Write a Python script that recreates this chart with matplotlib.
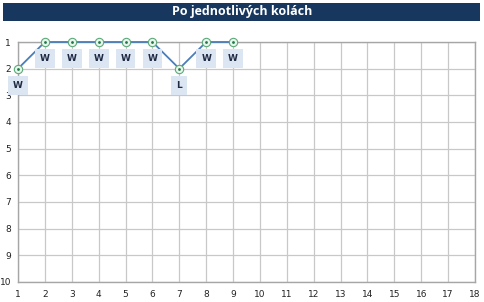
# Po jednotlivych kolach - position per round chart
import matplotlib
matplotlib.use('Agg')
import matplotlib.pyplot as plt
from matplotlib.patches import Rectangle

# Data
rounds = [1, 2, 3, 4, 5, 6, 7, 8, 9]
positions = [2, 1, 1, 1, 1, 1, 2, 1, 1]
results = ['W', 'W', 'W', 'W', 'W', 'W', 'L', 'W', 'W']
x_ticks = list(range(1, 19))
y_ticks = list(range(1, 11))

fig = plt.figure(figsize=(4.85, 3.02), dpi=100)

# Title bar
fig.patches.append(Rectangle((3/485, 1 - 21/302), 477/485, 18/302,
                             transform=fig.transFigure, facecolor='#17375E',
                             edgecolor='none'))
fig.text(0.5, 1 - 12/302, 'Po jednotlivých kolách', ha='center', va='center',
         color='white', fontsize=9, fontweight='bold', family='Open Sans')

ax = fig.add_axes([18/485, 1 - 282/302, 457/485, 240/302])
ax.set_xlim(1, 18)
ax.set_ylim(10, 1)
ax.set_xticks(x_ticks)
ax.set_yticks(y_ticks)
ax.tick_params(length=0, labelsize=6.5, colors='#222222')
ax.tick_params(axis='x', pad=6)
ax.tick_params(axis='y', pad=5)
ax.grid(True, color='#C8C8C8', linewidth=0.9)
for s in ax.spines.values():
    s.set_color('#A6A6A6')
    s.set_linewidth(1.0)
ax.set_axisbelow(True)

# Line and markers
ax.plot(rounds, positions, color='#4A7EBB', linewidth=1.3, zorder=3, clip_on=False)
ax.plot(rounds, positions, linestyle='none', marker='o', markersize=6,
        markerfacecolor='#E8F5EC', markeredgecolor='#5DAA7A', markeredgewidth=0.8,
        zorder=4, clip_on=False)
ax.plot(rounds, positions, linestyle='none', marker='o', markersize=2,
        markerfacecolor='#1F7A45', markeredgecolor='none', zorder=5, clip_on=False)

# Result labels
for r, p, res in zip(rounds, positions, results):
    ax.text(r, p + 0.63, res, ha='center', va='center', fontsize=6.5,
            fontweight='bold', color='#1F2A44', zorder=6,
            bbox=dict(boxstyle='square,pad=0.55', facecolor='#DCE6F2',
                      edgecolor='none'))

fig.savefig('out.png', dpi=100)
